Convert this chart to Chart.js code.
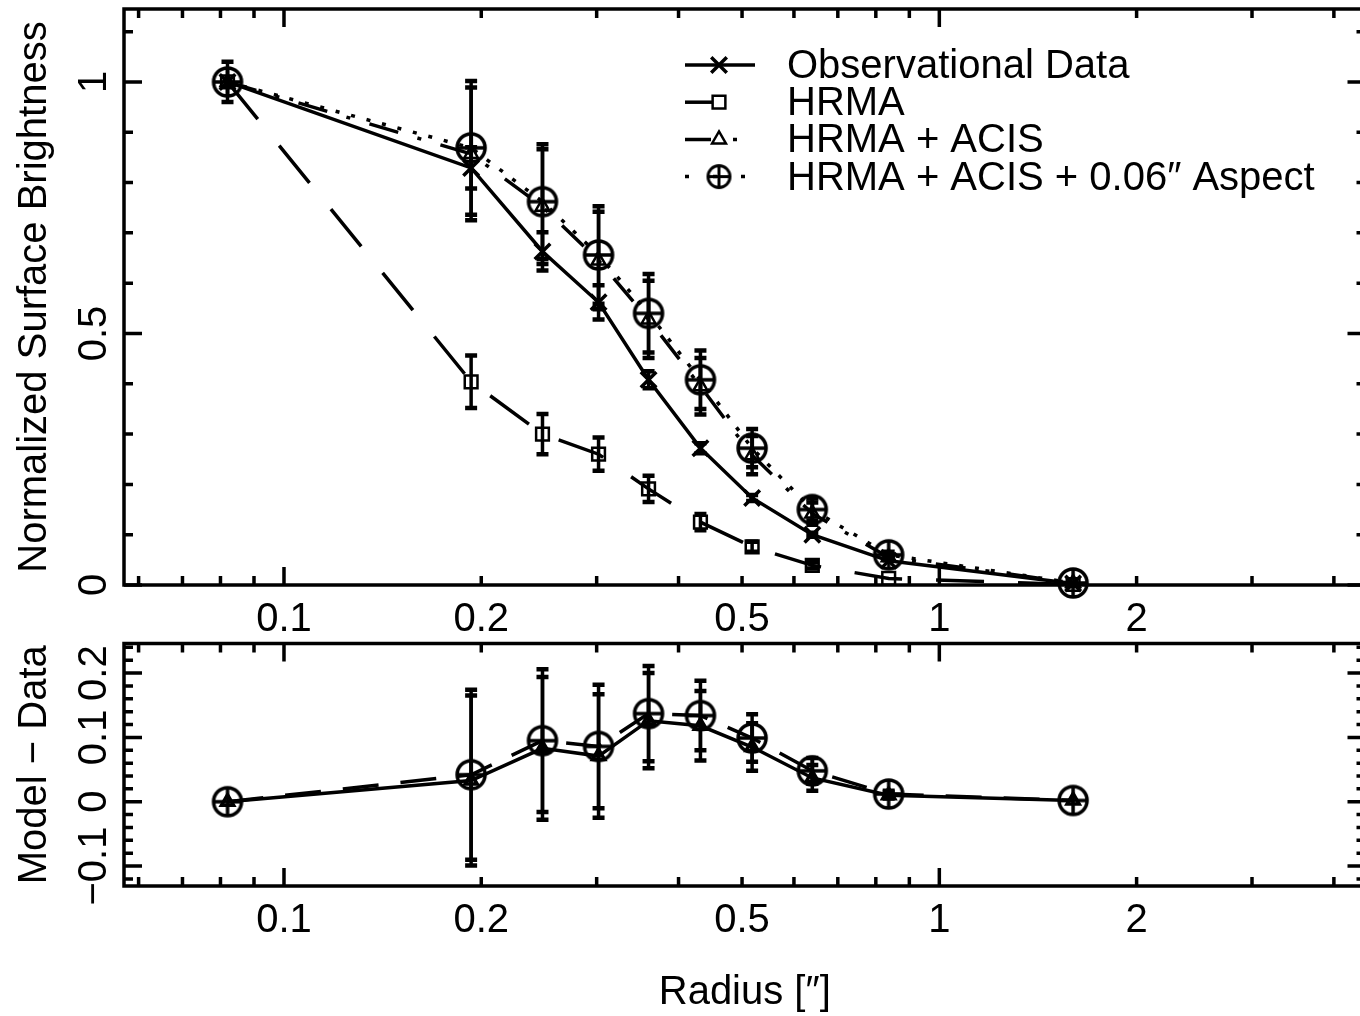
<!DOCTYPE html>
<html>
<head>
<meta charset="utf-8">
<script src="https://cdn.jsdelivr.net/npm/chart.js@4.4.1/dist/chart.umd.min.js"></script>
<style>
  html, body { margin: 0; padding: 0; background: #fff; overflow: hidden; }
  #wrap { position: relative; width: 1360px; height: 1016px; overflow: hidden; background: #fff; }
  canvas { position: absolute; left: 0; }
  #topPanel { top: 0; }
  #resPanel { top: 640px; }
</style>
</head>
<body>
<div id="wrap">
  <canvas id="topPanel" width="1370" height="640"></canvas>
  <canvas id="resPanel" width="1370" height="376"></canvas>
</div>
<script>
// annulus radii (arcsec)
const radius = [0.082, 0.193, 0.248, 0.302, 0.36, 0.432, 0.518, 0.64, 0.837, 1.6];

// normalized surface brightness
const obsData = [1.0, 0.829, 0.663, 0.562, 0.408, 0.272, 0.173, 0.100, 0.048, 0.003];
const obsErr  = [0.04, 0.041, 0.038, 0.034, 0.017, 0.010, 0.006, 0.004, 0.002, 0.001];

const hrma    = [1.0, 0.404, 0.300, 0.260, 0.191, 0.125, 0.076, 0.039, 0.013, 0.001];
const hrmaErr = [0, 0.052, 0.040, 0.033, 0.026, 0.016, 0.010, 0.006, 0.003, 0.001];

const hrmaAcis    = [1.0, 0.857, 0.752, 0.645, 0.528, 0.395, 0.258, 0.142, 0.055, 0.004];
const hrmaAcisErr = [0, 0.132, 0.114, 0.097, 0.077, 0.056, 0.038, 0.022, 0.006, 0.002];

const aspect    = [1.0, 0.869, 0.762, 0.656, 0.540, 0.408, 0.272, 0.150, 0.060, 0.004];
const aspectErr = [0, 0.133, 0.114, 0.097, 0.078, 0.058, 0.038, 0.022, 0.006, 0.002];

// model - data
const residAcis   = [0.0, 0.033, 0.083, 0.071, 0.126, 0.118, 0.085, 0.037, 0.010, 0.002];
const residAspect = [0.0, 0.042, 0.095, 0.086, 0.137, 0.134, 0.099, 0.048, 0.012, 0.002];
const residErr    = [0, 0.132, 0.111, 0.096, 0.074, 0.054, 0.037, 0.020, 0.005, 0.002];

// axes
const xTickVals = [0.1, 0.2, 0.5, 1, 2];
const xTickText = ['0.1', '0.2', '0.5', '1', '2'];
const xMajor = [0.1, 1];
const xMinor = [0.06, 0.07, 0.08, 0.09, 0.2, 0.3, 0.4, 0.5, 0.6, 0.7, 0.8, 0.9, 2, 3, 4];

const yTickVals = [0, 0.5, 1];
const yTickText = ['0', '0.5', '1'];
const yMajor = [0, 0.5, 1];
const yMinor = [0.1, 0.2, 0.3, 0.4, 0.6, 0.7, 0.8, 0.9, 1.1];

const rTickVals = [-0.1, 0, 0.1, 0.2];
const rTickText = ['\u22120.1', '0', '0.1', '0.2'];
const rMajor = [-0.1, 0, 0.1, 0.2];
const rMinor = [-0.12, -0.08, -0.06, -0.04, -0.02, 0.02, 0.04, 0.06, 0.08,
                0.12, 0.14, 0.16, 0.18, 0.22, 0.24];

const FONT = { family: "'Liberation Sans', Arial, sans-serif", size: 40 };

function pts(ys) { return radius.map((r, i) => ({ x: r, y: ys[i] })); }

// circle with a plus inside
function plusCircle(r, lw) {
  const c = document.createElement('canvas');
  const s = Math.ceil(2 * r + lw + 2);
  c.width = c.height = s;
  const g = c.getContext('2d');
  g.strokeStyle = '#000';
  g.lineWidth = lw;
  g.beginPath(); g.arc(s / 2, s / 2, r, 0, Math.PI * 2); g.stroke();
  g.beginPath();
  g.moveTo(s / 2 - r, s / 2); g.lineTo(s / 2 + r, s / 2);
  g.moveTo(s / 2, s / 2 - r); g.lineTo(s / 2, s / 2 + r);
  g.stroke();
  return c;
}
const oplus = plusCircle(14, 3.5);
const oplusSmall = plusCircle(11, 3);

// frame with inward ticks on all four sides
const frameTicks = {
  id: 'frameTicks',
  afterDraw(chart, args, o) {
    const { ctx, chartArea: a, scales: { x, y } } = chart;
    ctx.save();
    ctx.strokeStyle = '#000';
    ctx.lineWidth = 3.5;
    ctx.beginPath();
    const xt = (vals, len) => vals.forEach(v => {
      const px = x.getPixelForValue(v);
      ctx.moveTo(px, a.bottom); ctx.lineTo(px, a.bottom - len);
      ctx.moveTo(px, a.top); ctx.lineTo(px, a.top + len);
    });
    const yt = (vals, len) => vals.forEach(v => {
      const py = y.getPixelForValue(v);
      ctx.moveTo(a.left, py); ctx.lineTo(a.left + len, py);
      ctx.moveTo(a.right, py); ctx.lineTo(a.right - len, py);
    });
    xt(o.xMajor, 18); xt(o.xMinor, 9);
    yt(o.yMajor, 18); yt(o.yMinor, 9);
    ctx.stroke();
    ctx.strokeRect(a.left, a.top, a.right - a.left, a.bottom - a.top);
    ctx.restore();
  }
};

const errorBars = {
  id: 'errorBars',
  afterDatasetsDraw(chart) {
    const { ctx, scales: { x, y } } = chart;
    ctx.save();
    ctx.strokeStyle = '#000';
    chart.data.datasets.forEach(ds => {
      if (!ds.errors) return;
      ds.data.forEach((p, i) => {
        const e = ds.errors[i];
        if (!e) return;
        const px = x.getPixelForValue(p.x);
        const y1 = y.getPixelForValue(p.y + e);
        const y2 = y.getPixelForValue(p.y - e);
        if (y2 - y1 < 4) return;
        ctx.lineWidth = 3.5;
        ctx.beginPath(); ctx.moveTo(px, y1); ctx.lineTo(px, y2); ctx.stroke();
        ctx.lineWidth = 4.5;
        ctx.beginPath();
        ctx.moveTo(px - 6, y1); ctx.lineTo(px + 6, y1);
        ctx.moveTo(px - 6, y2); ctx.lineTo(px + 6, y2);
        ctx.stroke();
      });
    });
    ctx.restore();
  }
};

// legend in page coordinates: line sample with marker, then label
const pgLegend = {
  id: 'pgLegend',
  afterDraw(chart, args, o) {
    if (!o.show) return;
    const ctx = chart.ctx;
    const ox = parseFloat(chart.canvas.style.left) || 0;
    const oy = parseFloat(chart.canvas.style.top) || 0;
    chart.data.datasets.forEach((ds, i) => {
      const yy = o.y0 + i * o.dy - oy;
      ctx.save();
      ctx.translate(-ox, 0);
      ctx.strokeStyle = '#000';
      ctx.fillStyle = 'rgba(0,0,0,0)';
      ctx.lineWidth = ds.borderWidth;
      ctx.setLineDash(ds.legendDash || []);
      ctx.beginPath(); ctx.moveTo(o.x0, yy); ctx.lineTo(o.x1, yy); ctx.stroke();
      ctx.setLineDash([]);
      ctx.lineWidth = ds.pointBorderWidth;
      Chart.helpers.drawPoint(ctx, { pointStyle: ds.legendPoint || ds.pointStyle, radius: ds.pointRadius,
                                     rotation: 0, borderWidth: ds.pointBorderWidth }, o.xm, yy);
      ctx.fillStyle = '#000';
      ctx.font = FONT.size + 'px ' + FONT.family;
      ctx.textBaseline = 'middle';
      ctx.textAlign = 'left';
      ctx.fillText(ds.label, o.xt, yy + 2);
      ctx.restore();
    });
  }
};

const xMin = 0.057, xMax = 4.47;

function xAxis(h, title) {
  return {
    type: 'logarithmic', min: xMin, max: xMax,
    afterBuildTicks: ax => { ax.ticks = xTickVals.map(v => ({ value: v })); },
    afterFit: ax => { ax.height = h; },
    grid: { display: false, drawTicks: false },
    border: { display: false },
    ticks: { color: '#000', font: FONT, padding: 11, maxRotation: 0, autoSkip: false,
             callback: (v, i) => xTickText[i] },
    title: { display: !!title, text: title || '', color: '#000', font: FONT, padding: { top: 0, bottom: 0 } }
  };
}

function yAxis(min, max, vals, text, pad, title) {
  return {
    type: 'linear', min, max,
    afterBuildTicks: ax => { ax.ticks = vals.map(v => ({ value: v })); },
    afterFit: ax => { ax.width = 124; },
    grid: { display: false, drawTicks: false },
    border: { display: false },
    ticks: { color: '#000', font: FONT, padding: pad, minRotation: 90, maxRotation: 90,
             crossAlign: 'center', autoSkip: false, callback: (v, i) => text[i] },
    title: { display: true, text: title, color: '#000', font: FONT, padding: { top: 11, bottom: 0 } }
  };
}

const common = {
  responsive: false,
  maintainAspectRatio: false,
  animation: false,
  devicePixelRatio: 1,
  events: [],
  plugins: { legend: { display: false }, tooltip: { enabled: false } }
};

const line = (label, ys, errs, style, r, dash, legendDash, extra) => Object.assign({
  label, data: pts(ys), errors: errs,
  borderColor: '#000', borderWidth: 3.5, borderDash: dash, legendDash,
  pointStyle: style, pointRadius: r, pointBorderWidth: 3.5,
  pointBorderColor: '#000', pointBackgroundColor: 'rgba(0,0,0,0)',
  tension: 0, fill: false, clip: false
}, extra || {});

// move/resize a canvas until its chart area sits on the wanted page box
function pin(chart, box) {
  for (let k = 0; k < 4; k++) {
    const a = chart.chartArea;
    const left = box.left - a.left;
    const top = box.top - a.top;
    const w = Math.round(chart.width + (box.right - left) - a.right);
    const h = Math.round(chart.height + (box.bottom - top) - a.bottom);
    chart.canvas.style.left = left + 'px';
    chart.canvas.style.top = top + 'px';
    if (w === chart.width && h === chart.height) break;
    chart.resize(w, h);
  }
  chart.update('none');
}

const topChart = new Chart(document.getElementById('topPanel'), {
  type: 'line',
  data: {
    datasets: [
      line('Observational Data', obsData, obsErr, 'crossRot', 11, [], []),
      line('HRMA', hrma, hrmaErr, 'rect', 9, [48, 34], [28, 60], { pointBorderWidth: 2.5 }),
      line('HRMA + ACIS', hrmaAcis, hrmaAcisErr, 'triangle', 8, [30, 20, 4, 20], [26, 22, 4, 30],
           { pointBorderWidth: 2.5 }),
      line('HRMA + ACIS + 0.06\u2033 Aspect', aspect, aspectErr, oplus, 14, [4, 12], [4, 24],
           { legendPoint: oplusSmall })
    ]
  },
  options: Object.assign({}, common, {
    layout: { padding: { top: 9, right: 5, left: 0, bottom: 0 } },
    scales: {
      x: xAxis(55),
      y: yAxis(0, 1.145, yTickVals, yTickText, 1, 'Normalized Surface Brightness')
    },
    plugins: Object.assign({}, common.plugins, {
      frameTicks: { xMajor, xMinor, yMajor, yMinor },
      pgLegend: { show: true, x0: 685, x1: 755, xm: 719, xt: 787, y0: 65, dy: 37.2 }
    })
  }),
  plugins: [frameTicks, errorBars, pgLegend]
});
pin(topChart, { left: 124, top: 9, right: 1365, bottom: 585 });

const resChart = new Chart(document.getElementById('resPanel'), {
  type: 'line',
  data: {
    datasets: [
      line('HRMA + ACIS \u2212 Data', residAcis, residErr, 'triangle', 7, []),
      line('Aspect \u2212 Data', residAspect, residErr, oplus, 14, [36, 22])
    ]
  },
  options: Object.assign({}, common, {
    layout: { padding: { top: 3, right: 5, left: 0, bottom: 0 } },
    scales: {
      x: xAxis(131, 'Radius [\u2033]'),
      y: yAxis(-0.131, 0.246, rTickVals, rTickText, -10.5, 'Model \u2212 Data')
    },
    plugins: Object.assign({}, common.plugins, {
      frameTicks: { xMajor, xMinor, yMajor: rMajor, yMinor: rMinor },
      pgLegend: { show: false }
    })
  }),
  plugins: [frameTicks, errorBars, pgLegend]
});
pin(resChart, { left: 124, top: 643, right: 1365, bottom: 885 });
</script>
</body>
</html>
